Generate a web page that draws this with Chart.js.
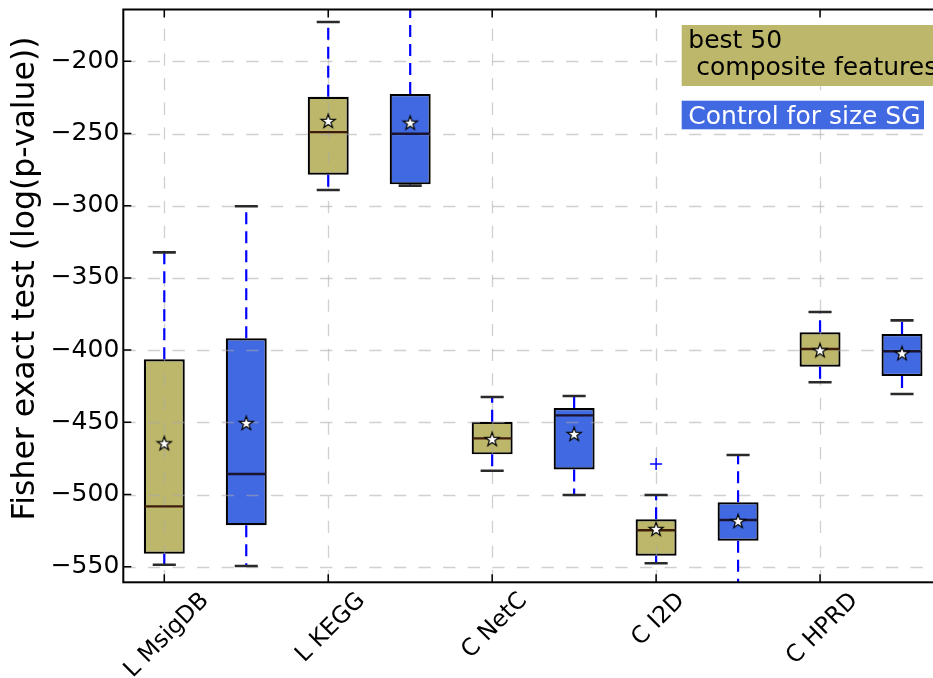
<!DOCTYPE html>
<html><head><meta charset="utf-8">
<script src="https://cdn.jsdelivr.net/npm/chart.js@4.4.0/dist/chart.umd.min.js"></script>
<style>html,body{margin:0;padding:0;background:#fff;overflow:hidden;}#wrap{width:960px;height:678px;}</style>
</head><body><div id="wrap"><canvas id="c" width="960" height="678"></canvas></div>
<script>
const categories = ['L MsigDB', 'L KEGG', 'C NetC', 'C I2D', 'C HPRD'];
const seriesNames = ['best 50\n composite features', 'Control for size SG'];
const yTicks = [-550, -500, -450, -400, -350, -300, -250, -200];

// series 1: best 50 composite features
const bestLowWhisker  = [-548.6, -289.1, -483.5, -547.6, -422.3];
const bestQ1          = [-541.0, -278.5, -472.2, -542.4, -411.5];
const bestMedian      = [-508.2, -249.0, -461.1, -524.8, -399.2];
const bestQ3          = [-406.4, -224.5, -449.6, -517.2, -387.7];
const bestHighWhisker = [-332.3, -172.8, -432.5, -500.3, -373.6];
const bestMean        = [-464.5, -241.3, -461.6, -523.9, -400.1];
const bestOutliers    = [[], [], [], [-478.9], []];

// series 2: control for size SG
const ctrlLowWhisker  = [-549.5, -286.1, -500.3, -575.0, -430.4];
const ctrlQ1          = [-521.3, -285.2, -482.6, -532.0, -417.9];
const ctrlMedian      = [-485.8, -250.1, -445.2, -517.7, -400.8];
const ctrlQ3          = [-391.8, -222.6, -440.1, -505.4, -388.9];
const ctrlHighWhisker = [-300.4, -150.0, -431.8, -472.6, -379.4];
const ctrlMean        = [-450.5, -242.5, -458.1, -518.4, -402.2];
const ctrlOutliers    = [[], [], [], [], []];

const OLIVE = '#BDB76B', BLUE = '#4169E1';
const FONT = '"DejaVu Sans", "Bitstream Vera Sans", sans-serif';

const series = [
  {low: bestLowWhisker, q1: bestQ1, med: bestMedian, q3: bestQ3, high: bestHighWhisker, mean: bestMean, out: bestOutliers, shift: 0, medColor: '#3e1e0a'},
  {low: ctrlLowWhisker, q1: ctrlQ1, med: ctrlMedian, q3: ctrlQ3, high: ctrlHighWhisker, mean: ctrlMean, out: ctrlOutliers, shift: 0.5, medColor: '#1a1430'}
];
const BOX_W = 0.25; // in category units

function makeStar() {
  const c = document.createElement('canvas'); c.width = 18; c.height = 18;
  const g = c.getContext('2d'); g.beginPath();
  for (let k = 0; k < 10; k++) {
    const r = k % 2 ? 2.9 : 7.4; const a = -Math.PI / 2 + k * Math.PI / 5;
    g.lineTo(9 + r * Math.cos(a), 9.6 + r * Math.sin(a));
  }
  g.closePath(); g.fillStyle = '#fff'; g.fill(); g.lineWidth = 1.2; g.strokeStyle = '#000'; g.stroke();
  return c;
}
const starImg = makeStar();

const meanPoints = [];
const outlierPoints = [];
series.forEach(s => categories.forEach((c, i) => {
  meanPoints.push({x: i + 1 + s.shift, y: s.mean[i]});
  s.out[i].forEach(v => outlierPoints.push({x: i + 1 + s.shift, y: v}));
}));

const extras = {
  id: 'extras',
  afterDatasetDraw(chart, args) {
    if (args.index !== 2) return;
    const ctx = chart.ctx, xs = chart.scales.x, ys = chart.scales.y, a = chart.chartArea;
    ctx.save();
    ctx.beginPath(); ctx.rect(a.left, a.top, a.right - a.left, a.bottom - a.top); ctx.clip();
    // grid (drawn over the boxes, like the reference)
    ctx.strokeStyle = 'rgba(170,170,170,0.55)'; ctx.lineWidth = 1.3; ctx.setLineDash([12.3, 12.3]);
    yTicks.forEach(v => { const y = Math.round(ys.getPixelForValue(v)) + 0.5;
      ctx.beginPath(); ctx.moveTo(a.left, y); ctx.lineTo(a.right, y); ctx.stroke(); });
    categories.forEach((c, i) => { const x = Math.round(xs.getPixelForValue(i + 1)) + 0.5;
      ctx.beginPath(); ctx.moveTo(x, a.bottom); ctx.lineTo(x, a.top); ctx.stroke(); });
    // whiskers, caps, medians
    series.forEach(s => categories.forEach((c, i) => {
      const xv = i + 1 + s.shift;
      const x = xs.getPixelForValue(xv);
      const hw = (xs.getPixelForValue(xv + BOX_W / 2) - xs.getPixelForValue(xv - BOX_W / 2)) / 2;
      ctx.setLineDash([12, 7]); ctx.strokeStyle = '#0000ff'; ctx.lineWidth = 2.2; ctx.lineCap = 'butt';
      [[s.q3[i], s.high[i]], [s.q1[i], s.low[i]]].forEach(([from, to]) => {
        ctx.beginPath(); ctx.moveTo(x, ys.getPixelForValue(from)); ctx.lineTo(x, ys.getPixelForValue(to)); ctx.stroke();
      });
      ctx.setLineDash([]); ctx.strokeStyle = '#2a2a2a'; ctx.lineWidth = 2.6; ctx.lineCap = 'square';
      [s.high[i], s.low[i]].forEach(v => { const y = ys.getPixelForValue(v);
        ctx.beginPath(); ctx.moveTo(x - hw / 2, y); ctx.lineTo(x + hw / 2, y); ctx.stroke(); });
      ctx.lineCap = 'butt';
      ctx.strokeStyle = s.medColor; ctx.lineWidth = 2.4;
      const ym = ys.getPixelForValue(s.med[i]);
      ctx.beginPath(); ctx.moveTo(x - hw + 1, ym); ctx.lineTo(x + hw - 1, ym); ctx.stroke();
    }));
    ctx.restore();
  },
  afterDraw(chart) {
    const ctx = chart.ctx, xs = chart.scales.x, ys = chart.scales.y, a = chart.chartArea;
    ctx.save();
    // inward ticks
    ctx.strokeStyle = '#000'; ctx.lineWidth = 1.5;
    yTicks.forEach(v => { const y = ys.getPixelForValue(v);
      ctx.beginPath(); ctx.moveTo(a.left, y); ctx.lineTo(a.left + 8, y); ctx.moveTo(a.right, y); ctx.lineTo(a.right - 8, y); ctx.stroke(); });
    categories.forEach((c, i) => { const x = xs.getPixelForValue(i + 1);
      ctx.beginPath(); ctx.moveTo(x, a.bottom); ctx.lineTo(x, a.bottom - 8); ctx.moveTo(x, a.top); ctx.lineTo(x, a.top + 8); ctx.stroke(); });
    // frame
    ctx.lineWidth = 2; ctx.strokeStyle = '#000';
    ctx.strokeRect(a.left, a.top, a.right - a.left, a.bottom - a.top);
    // x labels rotated 45 deg, centered on tick
    const XF = 23.5;
    ctx.fillStyle = '#000'; ctx.font = XF + 'px ' + FONT; ctx.textAlign = 'center'; ctx.textBaseline = 'middle';
    categories.forEach((c, i) => {
      const x = xs.getPixelForValue(i + 1);
      const w = ctx.measureText(c).width, h = XF * 1.17;
      const bb = (w + h) / Math.SQRT2;
      ctx.save(); ctx.translate(x + 2.5, a.bottom + 5 + bb / 2); ctx.rotate(-Math.PI / 4);
      ctx.fillText(c, 0, 0); ctx.restore();
    });
    // y title
    ctx.save(); ctx.font = '31.5px ' + FONT; ctx.textAlign = 'center'; ctx.textBaseline = 'alphabetic';
    ctx.translate(34, 278.5); ctx.rotate(-Math.PI / 2); ctx.fillText('Fisher exact test (log(p-value))', 0, 0); ctx.restore();
    // legend text boxes
    ctx.font = '25px ' + FONT; ctx.textAlign = 'left'; ctx.textBaseline = 'alphabetic';
    const lx = a.left + 558.4;
    const lines = seriesNames[0].split('\n');
    const lw = Math.max(...lines.map(t => ctx.measureText(t).width));
    ctx.fillStyle = OLIVE; ctx.fillRect(lx, a.top + 15.5, lw + 11, 61);
    ctx.fillStyle = '#000';
    ctx.fillText(lines[0], lx + 6.6, a.top + 38.8);
    ctx.fillText(lines[1], lx + 6.6, a.top + 65.5);
    const bw = ctx.measureText(seriesNames[1]).width;
    ctx.fillStyle = BLUE; ctx.fillRect(lx, a.top + 91.2, bw + 10, 28.6);
    ctx.fillStyle = '#fff';
    ctx.fillText(seriesNames[1], lx + 6.6, a.top + 114.5);
    ctx.restore();
  }
};

new Chart(document.getElementById('c'), {
  type: 'bar',
  data: {
    datasets: [
      {type: 'scatter', label: 'mean', data: meanPoints, pointStyle: starImg, pointRadius: 7, pointHoverRadius: 7},
      {type: 'scatter', label: 'outliers', data: outlierPoints, pointStyle: 'cross', pointRadius: 6, pointHoverRadius: 6, borderColor: '#0000ff', borderWidth: 1.5, backgroundColor: '#0000ff'},
      {label: seriesNames[0], data: categories.map((c, i) => ({x: i + 1, y: [bestQ1[i], bestQ3[i]]})),
        backgroundColor: OLIVE, borderColor: '#000', borderWidth: 2.2, borderSkipped: false, grouped: false, categoryPercentage: 1, barPercentage: 0.5},
      {label: seriesNames[1], data: categories.map((c, i) => ({x: i + 1.5, y: [ctrlQ1[i], ctrlQ3[i]]})),
        backgroundColor: BLUE, borderColor: '#000', borderWidth: 2.2, borderSkipped: false, grouped: false, categoryPercentage: 1, barPercentage: 0.5}
    ]
  },
  options: {
    responsive: false, animation: false, devicePixelRatio: 1,
    layout: {padding: {top: 9.5, right: 17, bottom: 0, left: 0}},
    plugins: {legend: {display: false}, tooltip: {enabled: false}},
    scales: {
      x: {type: 'linear', min: 0.75, max: 5.75, offset: false,
        afterBuildTicks: s => { s.ticks = categories.map((c, i) => ({value: i + 1})); },
        afterFit: s => { s.height = 95.7; s.paddingLeft = 0; s.paddingRight = 0; },
        ticks: {display: false}, grid: {display: false, drawTicks: false}, border: {display: false}},
      y: {type: 'linear', min: -560.8, max: -164.1, beginAtZero: false,
        afterBuildTicks: s => { s.ticks = yTicks.map(v => ({value: v})); },
        afterFit: s => { s.width = 123.3; s.paddingTop = 0; s.paddingBottom = 0; },
        ticks: {color: '#000', padding: 4, font: {family: FONT, size: 25}, callback: v => String(v).replace('-', '\u2212')},
        grid: {display: false, drawTicks: false}, border: {display: false}}
    }
  },
  plugins: [extras]
});
</script></body></html>
